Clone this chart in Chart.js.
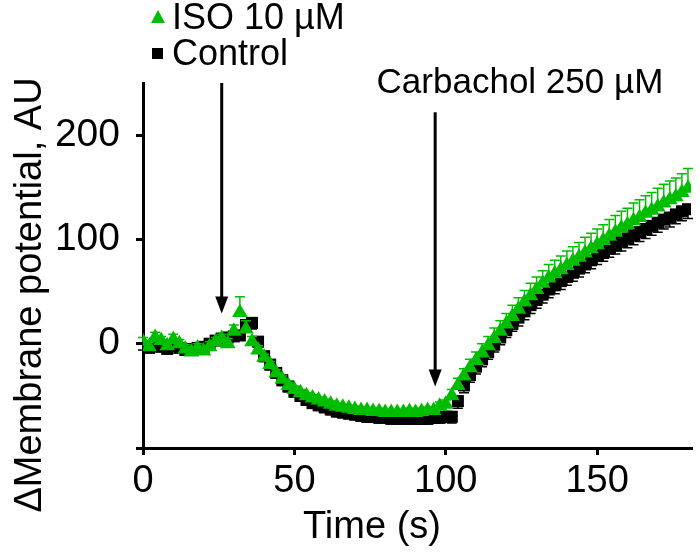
<!DOCTYPE html>
<html>
<head>
<meta charset="utf-8">
<script src="https://cdn.jsdelivr.net/npm/chart.js@4.4.1/dist/chart.umd.min.js"></script>
<style>
  html, body { margin: 0; padding: 0; background: #fff; }
  #wrap { width: 700px; height: 557px; }
</style>
</head>
<body>
<div id="wrap"><canvas id="chart" width="700" height="557"></canvas></div>
<script>
// time (s)
const time = [0,2,4,6,8,10,12,14,16,18,20,22,24,26,28,30,32,34,36,38,
  40,42,44,46,48,50,52,54,56,58,60,62,64,66,68,70,72,74,76,78,
  80,82,84,86,88,90,92,94,96,98,100,102,104,106,108,110,112,114,116,118,
  120,122,124,126,128,130,132,134,136,138,140,142,144,146,148,150,152,154,156,158,
  160,162,164,166,168,170,172,174,176,178,180];

// ISO 10 µM
const isoValues = [2,-3,6,3,-2,4,0,-5,-8,-4,-7,-3,2,5,0,12,30,14,2,-6,
  -13,-20,-28,-34,-40,-44,-47,-50,-52,-54,-56,-58,-60,-61,-62,-63,-64,-64,-65,-65,
  -66,-66,-66,-66,-65,-66,-65,-64,-64,-60,-58,
  -50,-40,-31,-23,-16,-9,-2,5,12,19,26,33,40,46,52,58,63,67,71,75,
  79,83,87,91,95,99,103,107,111,114,118,121,125,128,131,135,138,141,145,149];
const isoErrors = [4,4,5,4,4,5,4,4,5,4,4,5,4,4,5,6,15,8,5,4,
  3,3,3,3,3,3,3,3,3,3,3,3,3,3,3,3,3,3,3,3,
  3,3,3,3,3,3,3,3,3,4,4,
  6,7,7,8,8,9,9,10,10,10,11,11,11,12,12,12,13,13,13,14,
  14,14,15,15,15,15,16,16,16,16,17,17,17,17,18,18,18,18,18,19];

// Control
const controlValues = [-2,-4,0,-3,-5,-2,-4,-6,-5,-4,-3,0,3,5,6,7,8,18,20,2,
  -12,-20,-28,-35,-41,-46,-50,-54,-57,-59,-61,-63,-65,-66,-67,-68,-69,-70,-70,-71,
  -71,-72,-72,-72,-72,-72,-72,-72,-71,-71,-70,
  -70,-55,-40,-30,-22,-15,-8,-1,6,13,19,25,31,37,42,47,52,56,60,64,
  68,72,76,80,84,87,91,94,98,101,104,107,110,113,116,119,121,124,127,129];
const controlErrors = [4,4,4,4,4,4,4,4,4,4,4,4,4,4,4,4,5,6,6,5,
  5,5,5,5,5,5,5,5,5,5,5,5,5,5,5,5,5,5,5,5,
  5,5,5,5,5,5,5,5,5,5,5,
  6,7,7,7,7,7,7,7,7,7,7,8,8,8,8,8,8,8,8,8,
  8,8,8,8,8,8,8,8,9,9,9,9,9,9,9,9,9,9,9,9];

const xTicks = [0, 50, 100, 150];
const yTicks = [-100, 0, 100, 200];

// stimulus arrows (time, top value, tip value)
const arrowTimes = [26, 96.5];
const arrowTops = [250, 222];
const arrowTips = [29, -41];
const arrowLabel = 'Carbachol 250 µM';

const GREEN = '#00bd00';
const FONT = "'Liberation Sans', Arial, sans-serif";

const errorBars = {
  id: 'errorBars',
  beforeDatasetDraw(chart, args) {
    const { ctx, scales: { x, y } } = chart;
    const ds = chart.data.datasets[args.index];
    const vals = ds.errVals, errs = ds.errs, dir = ds.errDir;
    ctx.save();
    ctx.strokeStyle = ds.borderColor;
    ctx.lineWidth = 1.5;
    time.forEach((t, i) => {
      const px = x.getPixelForValue(t);
      const y0 = y.getPixelForValue(vals[i]);
      const y1 = y.getPixelForValue(vals[i] + dir * errs[i]);
      ctx.beginPath();
      ctx.moveTo(px, y0); ctx.lineTo(px, y1);
      ctx.moveTo(px - 5, y1); ctx.lineTo(px + 5, y1);
      ctx.stroke();
    });
    ctx.restore();
  }
};

const extras = {
  id: 'extras',
  afterDraw(chart) {
    const { ctx, scales: { x, y } } = chart;
    ctx.save();
    // arrows
    ctx.strokeStyle = '#000';
    ctx.fillStyle = '#000';
    ctx.lineWidth = 3;
    arrowTimes.forEach((t, i) => {
      const px = x.getPixelForValue(t);
      const top = y.getPixelForValue(arrowTops[i]);
      const tip = y.getPixelForValue(arrowTips[i]);
      ctx.beginPath();
      ctx.moveTo(px, top); ctx.lineTo(px, tip - 12);
      ctx.stroke();
      ctx.beginPath();
      ctx.moveTo(px - 6.5, tip - 17);
      ctx.lineTo(px + 6.5, tip - 17);
      ctx.lineTo(px, tip);
      ctx.closePath();
      ctx.fill();
    });
    ctx.font = '35px ' + FONT;
    ctx.textAlign = 'center';
    ctx.textBaseline = 'alphabetic';
    ctx.fillText(arrowLabel, x.getPixelForValue(124.5), y.getPixelForValue(240));

    // legend
    const dsets = chart.data.datasets;
    ctx.textAlign = 'left';
    ctx.font = '36px ' + FONT;
    ctx.fillStyle = GREEN;
    ctx.beginPath();
    ctx.moveTo(158, 10); ctx.lineTo(165, 23); ctx.lineTo(151, 23); ctx.closePath();
    ctx.fill();
    ctx.fillStyle = '#000';
    ctx.fillText(dsets[0].label, 172, 29);
    ctx.fillRect(152, 48, 11, 11);
    ctx.fillText(dsets[1].label, 172, 65);

    // axis titles
    ctx.font = '38px ' + FONT;
    ctx.textAlign = 'center';
    ctx.textBaseline = 'middle';
    ctx.fillText('Time (s)', 372, 528);
    ctx.translate(31, 295);
    ctx.rotate(-Math.PI / 2);
    ctx.fillText('\u0394Membrane potential, AU', 0, 0);
    ctx.restore();
  }
};

const ctx = document.getElementById('chart').getContext('2d');
const myChart = new Chart(ctx, {
  type: 'scatter',
  data: {
    datasets: [
      {
        label: 'ISO 10 µM',
        data: time.map((t, i) => ({ x: t, y: isoValues[i] })),
        errVals: isoValues, errs: isoErrors, errDir: 1,
        pointStyle: 'triangle',
        pointRadius: 9,
        backgroundColor: GREEN,
        borderColor: GREEN,
        borderWidth: 0,
        showLine: false
      },
      {
        label: 'Control',
        data: time.map((t, i) => ({ x: t, y: controlValues[i] })),
        errVals: controlValues, errs: controlErrors, errDir: -1,
        pointStyle: 'rect',
        pointRadius: 8.5,
        backgroundColor: '#000',
        borderColor: '#000',
        borderWidth: 0,
        showLine: false
      }
    ]
  },
  options: {
    responsive: false,
    animation: false,
    devicePixelRatio: 1,
    layout: { padding: { top: 83, right: 7, left: 0, bottom: 0 } },
    plugins: { legend: { display: false }, tooltip: { enabled: false } },
    scales: {
      x: {
        type: 'linear',
        min: 0,
        max: 181,
        afterBuildTicks: s => { s.ticks = xTicks.map(v => ({ value: v })); },
        afterFit: s => { s.height = 109; },
        border: { display: true, color: '#000', width: 3 },
        grid: { drawOnChartArea: false, drawTicks: true, tickLength: 7, color: '#000', lineWidth: 3 },
        ticks: { color: '#000', padding: 4, font: { family: FONT, size: 38 }, maxRotation: 0 }
      },
      y: {
        min: -100,
        max: 250,
        afterBuildTicks: s => { s.ticks = yTicks.map(v => ({ value: v })); },
        afterFit: s => { s.width = 143; },
        border: { display: true, color: '#000', width: 3 },
        grid: { drawOnChartArea: false, drawTicks: true, tickLength: 7, color: '#000', lineWidth: 3 },
        ticks: {
          color: '#000', padding: 16, font: { family: FONT, size: 39 },
          callback: v => (v < 0 ? '' : v)
        }
      }
    }
  },
  plugins: [errorBars, extras]
});
</script>
</body>
</html>
